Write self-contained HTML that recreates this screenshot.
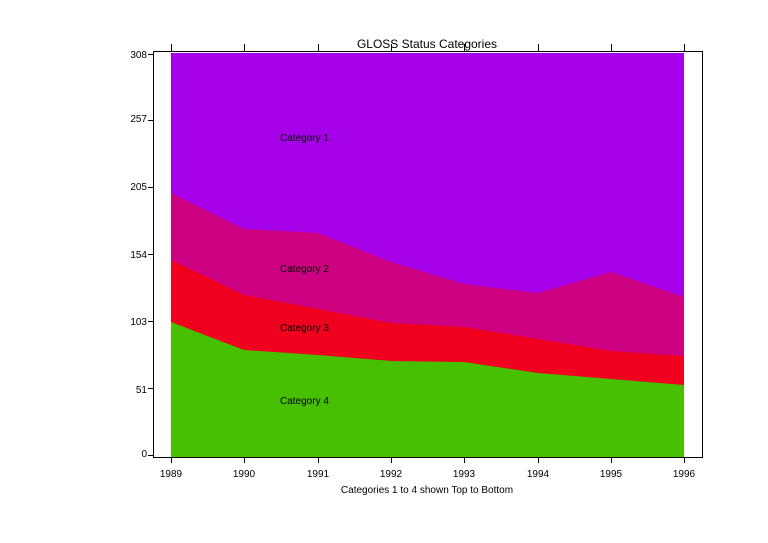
<!DOCTYPE html>
<html><head><style>body{margin:0;background:#fff}svg{display:block}text{font-family:"Liberation Sans",sans-serif;fill:#000}</style></head><body>
<svg width="768" height="543" xmlns="http://www.w3.org/2000/svg">
<rect x="171" y="53" width="513" height="404" fill="#a600e8"/>
<polygon fill="#cc0080" points="171,193 244,229 318,233 391,262 464,284 538,293 611,272 684,297 684,457 171,457"/>
<polygon fill="#f0001e" points="171,260 244,295 318,309 391,323 464,327 538,339 611,351 684,356 684,457 171,457"/>
<polygon fill="#46c000" points="171,322 244,350 318,355 391,361 464,362 538,373 611,379 684,385 684,457 171,457"/>
<g stroke="#000" stroke-width="1" fill="none">
<path d="M153.5,51.5V457.5H702.5V51.5H153.5"/>
<path d="M148,54.5h5M148,120.5h5M148,187.5h5M148,254.5h5M148,321.5h5M148,388.5h5M148,455.5h5"/>
<path d="M171.5,457v6M244.5,457v6M318.5,457v6M391.5,457v6M464.5,457v6M538.5,457v6M611.5,457v6M684.5,457v6"/>
<path d="M171.5,44v7M244.5,44v7M318.5,44v7M391.5,44v7M464.5,44v7M538.5,44v7M611.5,44v7M684.5,44v7"/>
</g>
<g font-size="10" text-anchor="end">
<text x="147" y="58">308</text><text x="147" y="122">257</text><text x="147" y="190">205</text>
<text x="147" y="258">154</text><text x="147" y="325">103</text><text x="147" y="393">51</text><text x="147" y="457">0</text>
</g>
<g font-size="10" text-anchor="middle">
<text x="171" y="477">1989</text><text x="244" y="477">1990</text><text x="318" y="477">1991</text><text x="391" y="477">1992</text>
<text x="464" y="477">1993</text><text x="538" y="477">1994</text><text x="611" y="477">1995</text><text x="684" y="477">1996</text>
<text x="427" y="493">Categories 1 to 4 shown Top to Bottom</text>
</g>
<text x="427" y="48" font-size="12" text-anchor="middle">GLOSS Status Categories</text>
<g font-size="10">
<text x="280" y="141">Category 1</text><text x="280" y="272">Category 2</text>
<text x="280" y="331">Category 3</text><text x="280" y="404">Category 4</text>
</g>
</svg>
</body></html>
